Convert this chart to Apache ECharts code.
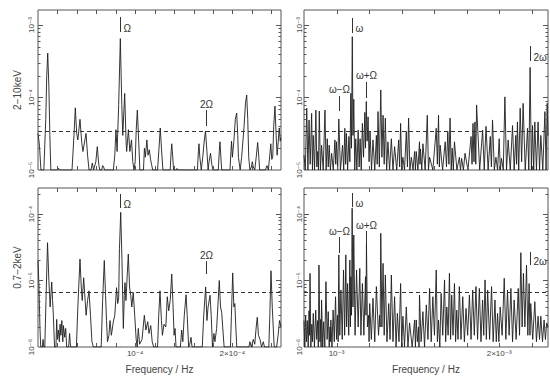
<!DOCTYPE html>
<html><head><meta charset="utf-8">
<script src="https://cdn.jsdelivr.net/npm/echarts@6/dist/echarts.min.js"></script>
<style>html,body{margin:0;padding:0;background:#fff}#c{width:550px;height:377px}</style>
</head><body><div id="c"></div>
<script>
// ---- DATA ----
// Left panels: frequency in units of 1e-5 Hz. Right panels: frequency in units of 1e-3 Hz.
// Top panels (2-10 keV): power in units of 1e-5. Bottom panels (0.7-2 keV): power in units of 1e-6.
const hardLow = [[0,3.2],[0.15,2.2],[0.3,1],
[0.6,1],[0.8,5],[0.9,20],[1.0,41],[1.12,14],[1.22,3],[1.32,1],
[2.0,1],[2.1,1.06],[2.2,1],
[3.5,1],[3.7,3],[3.84,7.2],[3.98,3.2],[4.1,2.6],[4.32,5.0],[4.5,2.4],[4.62,1.8],[4.94,3.2],[5.1,1.6],[5.25,1],
[5.45,1],[5.59,1.25],[5.72,1],[5.95,1.3],[6.1,2.1],[6.25,1.2],[6.35,1],[6.55,1],[6.65,1.15],[6.75,1.1],[6.85,1],
[7.75,1],[7.9,1.6],[8.02,3.6],[8.14,1.8],[8.3,8],[8.47,65],[8.62,8],[8.72,3],[8.92,11.4],[9.06,2.5],[9.12,1.8],[9.3,3.6],[9.45,1.8],[9.62,2.6],[9.75,1.3],[9.88,1],[10.0,1.3],[10.1,3.5],[10.22,6.7],[10.36,2.5],[10.48,1],
[10.85,1],[10.95,2.0],[11.05,1.5],[11.2,2.6],[11.32,1.6],[11.45,1.9],[11.58,1.4],[11.68,1.2],[11.8,1],
[12.3,1],[12.45,2],[12.58,3.8],[12.7,2],[12.85,1],
[13.6,1],[13.7,1.8],[13.76,2.3],[13.85,1.6],[13.95,1],
[14.25,1],[14.3,1.05],[14.4,1],
[16.4,1],[16.5,1.8],[16.56,2.3],[16.65,1.5],[16.8,1],[16.95,1.5],[17.1,2.5],[17.23,3.45],[17.38,1.8],[17.5,1],[17.6,1.3],[17.75,1.7],[17.88,1.2],[18.0,1],
[18.55,1],[18.65,1.8],[18.72,2.45],[18.8,1.6],[18.9,1],
[19.75,1],[19.85,1.8],[19.91,2.5],[20.0,1.5],[20.15,2.5],[20.3,5],[20.44,6.1],[20.55,3],[20.62,1.5],[20.8,1],[20.95,1.5],[21.2,4],[21.35,8.5],[21.47,10.8],[21.58,5],[21.68,1.5],[21.8,1],[21.95,1.1],[22.05,1.3],[22.15,1.1],[22.3,1],[22.45,1.5],[22.6,2.4],[22.72,1.5],[22.8,1],
[23.4,1],[23.56,1.15],[23.7,1],[23.85,1.6],[23.95,2.3],[24.05,1.4],[24.15,1.5],[24.25,4],[24.38,7.6],[24.5,3],[24.6,1.6],[24.72,2.5],[24.82,3.8],[24.92,2.5],[25.0,2.8]];

const hardHigh = [[0.800,1.6],[0.808,1],[0.817,7.1],[0.824,1],[0.831,4.9],[0.838,1.2],[0.847,6.05],[0.852,1],[0.857,3.0],[0.865,1],[0.873,6.7],[0.879,1.1],[0.884,1.8],[0.889,1],[0.894,6.5],[0.901,1],[0.908,2.2],[0.918,1],[0.929,6.7],[0.936,1],[0.943,2.7],[0.949,1.1],[0.955,2.2],[0.962,1],[0.970,1.7],[0.980,1],[0.990,2.6],[0.995,1.2],[1.000,2.45],[1.007,1],[1.014,5.05],[1.024,1],[1.031,1.5],[1.037,2.2],[1.044,1],[1.051,3.76],[1.056,1.2],[1.061,3.2],[1.068,1],[1.076,2.9],[1.082,1.3],[1.088,11.4],[1.092,2],[1.097,69],[1.101,3],[1.106,9.45],[1.112,1],[1.118,2.7],[1.125,1],[1.133,3.56],[1.139,1.1],[1.145,2.7],[1.152,1],[1.159,4.4],[1.166,1.5],[1.174,6.25],[1.178,2],[1.183,8.8],[1.188,2.5],[1.194,5.4],[1.200,1.3],[1.206,3.4],[1.215,1],[1.224,2.6],[1.235,1],[1.245,3.0],[1.250,1.2],[1.255,6.4],[1.263,1.1],[1.272,12.7],[1.279,1.5],[1.286,5.7],[1.293,1.2],[1.300,5.2],[1.308,1],[1.316,2.45],[1.326,1],[1.337,2.7],[1.347,1],[1.357,2.1],[1.370,1],[1.382,2.6],[1.388,1.1],[1.394,4.4],[1.401,1],[1.408,1.5],[1.418,1],[1.429,3.4],[1.436,1.1],[1.443,5.2],[1.451,1],[1.460,1.5],[1.470,1],[1.480,1.8],[1.485,1],[1.490,1.8],[1.500,1],[1.510,2.45],[1.513,1.2],[1.516,1.95],[1.524,1],[1.531,2.3],[1.545,1],[1.558,5.7],[1.565,1],[1.572,1.5],[1.592,1],[1.613,3.76],[1.620,1.2],[1.627,5.7],[1.632,1.1],[1.637,2.2],[1.652,1],[1.668,2.45],[1.676,1.1],[1.684,3.4],[1.691,1.2],[1.698,5.2],[1.705,1],[1.711,2.0],[1.718,1],[1.725,2.45],[1.740,1],[1.755,1.5],[1.762,1],[1.769,1.45],[1.780,1],[1.790,1.7],[1.808,1],[1.827,2.9],[1.833,1.2],[1.839,4.4],[1.845,1.3],[1.851,4.6],[1.856,1.2],[1.861,7.9],[1.880,1],[1.898,3.56],[1.908,1],[1.919,4.0],[1.932,1],[1.945,2.9],[1.952,1.1],[1.959,4.9],[1.970,1],[1.980,1.5],[1.990,1],[2.000,2.7],[2.007,1],[2.014,1.45],[2.025,1],[2.035,10.2],[2.045,1],[2.055,2.6],[2.068,1],[2.082,4.1],[2.092,1],[2.102,3.0],[2.107,1.2],[2.112,4.6],[2.120,1],[2.129,7.1],[2.138,1.3],[2.147,8.3],[2.160,1],[2.174,3.76],[2.182,1],[2.190,26],[2.198,1],[2.205,4.1],[2.212,1],[2.219,4.6],[2.229,1],[2.239,4.6],[2.248,1],[2.256,3.0],[2.268,1],[2.281,6.4],[2.288,1],[2.295,8.3],[2.300,3]];

const softLow = [[0,20],[0.1,8],[0.2,2],[0.28,1],[0.45,1],[0.52,1.3],[0.6,1],
[0.7,1],[0.82,5],[0.98,37],[1.12,10],[1.25,4],[1.41,9.5],[1.5,5],[1.58,3],[1.7,1],
[1.85,1],[1.92,2.6],[2.0,1.3],[2.1,1.8],[2.2,1.2],[2.27,2.2],[2.35,1.5],[2.45,2.5],[2.55,1.2],[2.62,2.1],[2.75,1.4],[2.85,1.9],[2.95,1],[3.15,1],[3.25,1.6],[3.35,1],
[3.95,1],[4.1,4],[4.32,21],[4.45,8],[4.55,5],[4.7,11],[4.85,5],[4.95,3],[5.1,5],[5.25,7],[5.4,3],[5.55,1.2],[5.7,1],
[6.5,1],[6.65,5],[6.82,20],[6.95,6],[7.05,2.5],[7.15,1.2],[7.3,1.5],[7.41,2.5],[7.55,1.5],[7.75,2.4],[7.9,3],[8.08,7.8],[8.2,4.5],[8.3,5.5],
[8.38,30],[8.51,106],[8.64,20],[8.78,1.9],[8.88,6],[8.95,9.3],[9.05,5],[9.18,12],[9.29,25],[9.42,8],[9.54,6],[9.65,4],[9.8,6.6],[9.95,3],[10.1,1.3],[10.2,1],
[10.32,1.9],[10.45,1.1],[10.7,1.3],[10.94,3],[11.1,1.8],[11.29,2.4],[11.42,1.6],[11.6,2.1],[11.75,1.2],[11.9,1],
[12.3,1],[12.42,3],[12.55,7],[12.7,2.5],[12.8,1.5],[12.96,2.2],[13.15,2],[13.3,5.7],[13.45,3.5],[13.6,5],[13.76,12.5],[13.9,4],[14.0,1.5],[14.1,1.9],[14.2,1],
[14.65,1],[14.78,1.8],[14.9,1.2],[15.05,3],[15.23,6.1],[15.35,3],[15.5,1],[15.62,1.1],[15.74,1.4],[15.85,1],
[16.9,1],[17.05,3],[17.25,8],[17.38,2.5],[17.5,4],[17.7,6],[17.82,3],[17.95,1],[18.1,1.6],[18.2,1.2],[18.38,1.9],[18.5,4],[18.65,10],[18.78,4],[18.9,3.3],[19.0,2],[19.15,1],
[19.8,1],[19.9,3],[20.03,13],[20.15,4],[20.25,4.5],[20.35,2],[20.45,1],
[21.7,1],[21.8,1.2],[21.95,1],[22.15,1.3],[22.3,1.1],[22.45,2],[22.56,2.8],[22.68,1.5],[22.84,1.3],[23.0,1],[23.18,1.2],[23.3,1],
[23.75,1],[23.85,3],[23.97,14],[24.1,4],[24.2,2],[24.3,1],[24.55,1],[24.7,1.5],[24.85,2.5],[25,2]];

const softHigh = [[0.800,2.5],[0.805,1],[0.810,3],[0.815,1.2],[0.820,2.5],[0.826,1],[0.831,3.5],[0.834,1.5],[0.837,12.8],[0.842,1],[0.848,2.2],[0.852,1.2],[0.857,3.2],[0.864,1],[0.872,3.6],[0.878,1.3],[0.884,2.5],[0.888,1],[0.892,17.1],[0.898,1.2],[0.903,2.6],[0.905,1],[0.908,5.1],[0.915,1],[0.921,2.4],[0.928,1],[0.935,9.6],[0.942,1.3],[0.949,3.4],[0.955,1],[0.960,2],[0.962,1.2],[0.965,2.55],[0.972,1],[0.979,3.6],[0.986,1.2],[0.994,5.7],[1.000,1.3],[1.006,3],[1.010,1.2],[1.014,24.3],[1.020,1.5],[1.027,7.2],[1.035,1.3],[1.043,14.4],[1.050,1.5],[1.057,24.3],[1.062,2],[1.068,9],[1.075,1.5],[1.082,20.3],[1.085,2],[1.088,11.4],[1.092,3],[1.096,122],[1.101,4],[1.106,48.3],[1.114,1.5],[1.123,14.4],[1.133,2],[1.143,15.2],[1.150,1.5],[1.159,9],[1.168,1.5],[1.178,11.4],[1.181,3],[1.184,36.3],[1.190,2],[1.197,3],[1.200,1.2],[1.204,4.5],[1.214,1.3],[1.224,5.4],[1.235,1.2],[1.245,8.1],[1.258,1.5],[1.265,3],[1.268,2],[1.272,51.3],[1.279,2],[1.286,18.1],[1.293,1.5],[1.300,12.1],[1.310,1.2],[1.321,4.5],[1.329,1.3],[1.337,12.1],[1.347,1.2],[1.357,5.7],[1.366,1],[1.374,3.2],[1.384,1.2],[1.394,9],[1.401,1],[1.408,2.9],[1.418,1],[1.429,4.0],[1.439,1],[1.449,2.3],[1.465,1],[1.480,2.55],[1.485,1],[1.490,2.55],[1.497,1.2],[1.504,2.0],[1.507,1],[1.510,6.06],[1.520,1.2],[1.531,3.4],[1.541,1],[1.552,4.3],[1.562,1.3],[1.572,7.6],[1.582,1.2],[1.592,5.7],[1.602,1.5],[1.613,14.4],[1.620,1.2],[1.627,2.55],[1.635,1],[1.643,6.4],[1.653,1.5],[1.664,10.2],[1.671,1.2],[1.678,4.0],[1.686,1.5],[1.694,12.8],[1.701,1.3],[1.708,6.06],[1.716,1.5],[1.725,9],[1.732,1.2],[1.739,3.6],[1.747,1.3],[1.755,8.1],[1.765,1.3],[1.776,5.7],[1.786,1.2],[1.796,3.8],[1.806,1.5],[1.817,6.06],[1.827,1.3],[1.837,7.2],[1.847,1.5],[1.857,8.1],[1.867,1.3],[1.878,7.6],[1.888,1.2],[1.898,5.1],[1.905,1.5],[1.913,10.2],[1.921,1.3],[1.929,7.2],[1.941,1.3],[1.953,8.1],[1.963,1.2],[1.974,5.1],[1.982,1.2],[1.990,3.2],[1.998,1.2],[2.006,4.0],[2.018,1.5],[2.031,10.8],[2.041,1.3],[2.051,7.2],[2.061,1.5],[2.072,7.6],[2.082,1.2],[2.092,5.1],[2.104,1.3],[2.117,7.6],[2.125,1.5],[2.133,26.2],[2.141,2],[2.149,12.8],[2.158,2],[2.168,17.1],[2.176,1.5],[2.184,9],[2.189,1.5],[2.194,4.5],[2.206,1.3],[2.219,4.8],[2.229,1.2],[2.239,2.9],[2.248,1.3],[2.256,2.9],[2.266,1.2],[2.276,2.55],[2.284,1.3],[2.292,2.3],[2.300,2]];

// significance levels
const thresholdHard = 3.4;   // x1e-5
const thresholdSoft = 6.7;   // x1e-6

// annotation markers: names, frequency, bar bottom/top power, label placement
const markNamesLow = ['Ω', '2Ω'];
const markFreqLow = [8.47, 17.25];
const markPlaceLow = ['right', 'top'];
const markHardLowBar = [[80, 129], [4.05, 6.7]];
const markSoftLowBar = [[123, 200], [12.5, 19.6]];

const markNamesHigh = ['ω', 'ω−Ω', 'ω+Ω', '2ω'];
const markFreqHigh = [1.097, 1.014, 1.183, 2.19];
const markPlaceHigh = ['right', 'top', 'top', 'right'];
const markHardHighBar = [[77.6, 125], [6.5, 10.5], [9.85, 16.4], [31.8, 51.3]];
const markSoftHighBar = [[127, 207], [25.9, 45], [34.2, 55.5], [17.1, 26.8]];

// ticks
const xTicksLow = [2,4,6,8,10,12,14,16,18,20,22,24];
const xTicksHigh = [1.0,1.2,1.4,1.6,1.8,2.0,2.2];
const xLabelsLow = {10: '10⁻⁴', 20: '2×10⁻⁴'};
const xLabelsHigh = {1: '10⁻³', 2: '2×10⁻³'};
const yMinor = [2,3,4,5,6,7,8,9,20,30,40,50,60,70,80,90,200];
const yMajor = [10,100];
const yLabelsHard = ['10⁻⁵','10⁻⁴','10⁻³'];
const yLabelsSoft = ['10⁻⁶','10⁻⁵','10⁻⁴'];

// ---- CHART ----
const FONT = 'Liberation Sans, DejaVu Sans, sans-serif';
const LINE = '#1e1e1e';
const chart = echarts.init(document.getElementById('c'), null, {renderer: 'svg'});

const grids = [
  {left: 38, top: 10, width: 243, height: 160},
  {left: 304, top: 10, width: 244, height: 160},
  {left: 38, top: 188, width: 243, height: 159},
  {left: 304, top: 188, width: 244, height: 159}
].map(g => Object.assign({show: true, borderColor: '#555', borderWidth: 1, backgroundColor: 'transparent', containLabel: false, outerBoundsMode: 'none'}, g));

function xAxisFor(i, low, showLabels) {
  const labels = low ? xLabelsLow : xLabelsHigh;
  return {
    type: 'value', gridIndex: i, min: low ? 0 : 0.8, max: low ? 25 : 2.3, interval: low ? 2 : 0.1,
    axisLine: {show: false}, axisTick: {show: false}, splitLine: {show: false},
    axisLabel: {show: showLabels, margin: 2, fontSize: 8, color: '#444', fontFamily: FONT,
      formatter: v => { for (const k in labels) { if (Math.abs(v - k) < 1e-6) return labels[k]; } return ''; }},
    name: showLabels ? 'Frequency / Hz' : '', nameLocation: 'middle', nameGap: 17,
    nameTextStyle: {fontSize: 10, color: '#444', fontFamily: FONT}
  };
}
function yAxisFor(i, soft, name, margin) {
  const labels = soft ? yLabelsSoft : yLabelsHard;
  return {
    type: 'log', logBase: 10, gridIndex: i, min: 1, max: soft ? 246 : 161,
    axisLine: {show: false}, axisTick: {show: false}, splitLine: {show: false},
    axisLabel: {margin: margin, rotate: 90, fontSize: 8, color: '#444', fontFamily: FONT,
      formatter: v => { const l = Math.log10(v); const r = Math.round(l); if (Math.abs(l - r) > 1e-6) return ''; return labels[r] || ''; }},
    name: name, nameLocation: 'middle', nameGap: 16, nameRotate: 90,
    nameTextStyle: {fontSize: 10, color: '#444', fontFamily: FONT}
  };
}

function lineSeries(i, data, thr) {
  return {
    type: 'line', xAxisIndex: i, yAxisIndex: i, data: data.map(d => [d[0], d[1]]),
    showSymbol: false, symbol: 'none', animation: false, silent: true, z: 3,
    lineStyle: {color: LINE, width: 0.9}, clip: true,
    markLine: {silent: true, symbol: 'none', animation: false, label: {show: false},
      lineStyle: {type: [4, 3], color: '#333', width: 1}, data: [{yAxis: thr}]}
  };
}

function tickSeries(i, xTicks, xMin) {
  return {
    type: 'custom', xAxisIndex: i, yAxisIndex: i, silent: true, clip: false, z: 6, animation: false,
    data: [[xMin, 1]],
    renderItem: function (params, api) {
      const cs = params.coordSys;
      const l = cs.x, r = cs.x + cs.width, t = cs.y, b = cs.y + cs.height;
      const st = {stroke: '#555', lineWidth: 1};
      const ch = [];
      xTicks.forEach(v => {
        const x = Math.round(api.coord([v, 1])[0]) + 0.5;
        ch.push({type: 'line', shape: {x1: x, y1: b, x2: x, y2: b - 4}, style: st});
        ch.push({type: 'line', shape: {x1: x, y1: t, x2: x, y2: t + 4}, style: st});
      });
      const yt = (vals, len) => vals.forEach(v => {
        const y = Math.round(api.coord([xMin, v])[1]) + 0.5;
        if (y < t || y > b) return;
        ch.push({type: 'line', shape: {x1: l, y1: y, x2: l + len, y2: y}, style: st});
        ch.push({type: 'line', shape: {x1: r, y1: y, x2: r - len, y2: y}, style: st});
      });
      yt(yMinor, 2.5);
      yt(yMajor, 5);
      return {type: 'group', children: ch};
    }
  };
}

function markSeries(i, names, freqs, bars, places) {
  return {
    type: 'custom', xAxisIndex: i, yAxisIndex: i, silent: true, clip: false, z: 7, animation: false,
    data: freqs.map((f, k) => [f, bars[k][0], bars[k][1]]),
    renderItem: function (params, api) {
      const k = params.dataIndex;
      const p0 = api.coord([api.value(0), api.value(1)]);
      const p1 = api.coord([api.value(0), api.value(2)]);
      const x = Math.round(p0[0]) + 0.5;
      const ch = [{type: 'line', shape: {x1: x, y1: p0[1], x2: x, y2: p1[1]}, style: {stroke: '#333', lineWidth: 1}}];
      if (places[k] === 'right') {
        ch.push({type: 'text', style: {text: names[k], x: x + 3, y: p0[1] - 4, align: 'left', verticalAlign: 'middle', fill: '#333', font: '10px ' + FONT}});
      } else {
        ch.push({type: 'text', style: {text: names[k], x: x, y: p1[1] - 1, align: 'center', verticalAlign: 'bottom', fill: '#333', font: '10px ' + FONT}});
      }
      return {type: 'group', children: ch};
    }
  };
}

chart.setOption({
  animation: false,
  backgroundColor: '#fff',
  grid: grids,
  xAxis: [xAxisFor(0, true, false), xAxisFor(1, false, false), xAxisFor(2, true, true), xAxisFor(3, false, true)],
  yAxis: [yAxisFor(0, false, '2−10keV', 3), yAxisFor(1, false, '', 1), yAxisFor(2, true, '0.7−2keV', 3), yAxisFor(3, true, '', 1)],
  series: [
    lineSeries(0, hardLow, thresholdHard),
    lineSeries(1, hardHigh, thresholdHard),
    lineSeries(2, softLow, thresholdSoft),
    lineSeries(3, softHigh, thresholdSoft),
    tickSeries(0, xTicksLow, 0), tickSeries(1, xTicksHigh, 0.8),
    tickSeries(2, xTicksLow, 0), tickSeries(3, xTicksHigh, 0.8),
    markSeries(0, markNamesLow, markFreqLow, markHardLowBar, markPlaceLow),
    markSeries(1, markNamesHigh, markFreqHigh, markHardHighBar, markPlaceHigh),
    markSeries(2, markNamesLow, markFreqLow, markSoftLowBar, markPlaceLow),
    markSeries(3, markNamesHigh, markFreqHigh, markSoftHighBar, markPlaceHigh)
  ]
});
</script></body></html>
